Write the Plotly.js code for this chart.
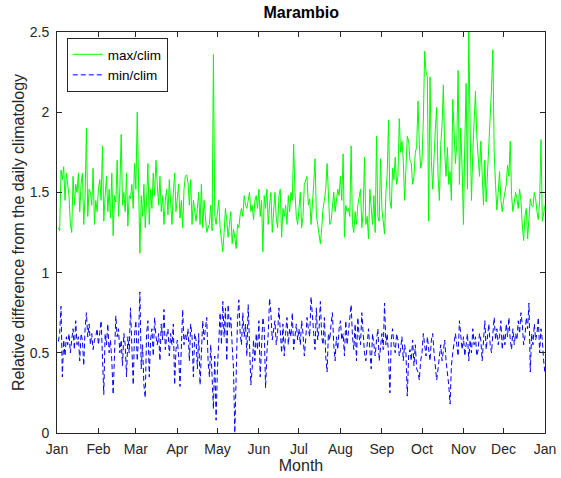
<!DOCTYPE html>
<html>
<head>
<meta charset="utf-8">
<script src="https://cdn.plot.ly/plotly-3.0.1.min.js"></script>
<style>html,body{margin:0;padding:0;background:#fff;}#chart{width:561px;height:478px;}</style>
</head>
<body>
<div id="chart"></div>
<script>
// Month tick positions (day of year) and labels
var monthStartDays = [0,31,59,90,120,151,181,212,243,273,304,334,365];
var monthLabels = ["Jan","Feb","Mar","Apr","May","Jun","Jul","Aug","Sep","Oct","Nov","Dec","Jan"];

// max/clim by month (daily values)
var maxJan = [1.28,1.26,1.64,1.58,1.66,1.45,1.62,1.55,1.48,1.30,1.25,1.60,1.42,1.55,1.50,1.62,1.38,1.55,1.62,1.30,1.48,1.90,1.35,1.52,1.50,1.42,1.65,1.30,1.45,1.38,1.52];
var maxFeb = [1.58,1.45,1.79,1.32,1.48,1.60,1.38,1.52,1.34,1.62,1.23,1.48,1.44,1.70,1.35,1.52,1.86,1.42,1.50,1.38,1.62,1.29,1.48,1.46,1.55,1.40,1.68,1.52];
var maxMar = [2.00,1.40,1.12,1.48,1.35,1.55,1.28,1.45,1.68,1.30,1.52,1.40,1.62,1.48,1.70,1.55,1.42,1.60,1.38,1.48,1.30,1.45,1.52,1.36,1.58,1.44,1.30,1.50,1.62,1.38,1.48];
var maxApr = [1.55,1.34,1.45,1.28,1.52,1.60,1.61,1.56,1.42,1.58,1.30,1.45,1.38,1.32,1.40,1.50,1.30,1.55,1.28,1.45,1.35,1.25,1.28,1.30,1.42,1.26,2.36,1.36,1.30,1.38];
var maxMay = [1.45,1.28,1.20,1.13,1.25,1.40,1.32,1.22,1.30,1.38,1.18,1.27,1.22,1.15,1.30,1.28,1.36,1.40,1.35,1.48,1.42,1.40,1.45,1.50,1.38,1.42,1.33,1.45,1.48,1.40,1.52];
var maxJun = [1.35,1.45,1.13,1.48,1.40,1.52,1.30,1.42,1.50,1.25,1.38,1.50,1.34,1.28,1.48,1.52,1.22,1.40,1.35,1.42,1.30,1.48,1.38,1.50,1.45,1.80,1.50,1.35,1.30,1.38];
var maxJul = [1.50,1.28,1.35,1.55,1.58,1.60,1.42,1.46,1.30,1.40,1.55,1.71,1.35,1.30,1.25,1.18,1.28,1.40,1.45,1.52,1.68,1.48,1.30,1.32,1.42,1.50,1.38,1.45,1.52,1.48,1.60];
var maxAug = [1.45,1.74,1.22,1.42,1.38,1.40,1.35,1.79,1.30,1.25,1.38,1.30,1.42,1.48,1.52,1.28,1.38,1.72,1.30,1.35,1.21,1.52,1.38,1.30,1.48,1.25,1.85,1.35,1.32,1.71,1.40];
var maxSep = [1.30,1.24,1.50,1.62,1.95,1.45,1.40,1.65,1.58,1.72,1.55,1.60,1.96,1.75,1.82,1.70,1.45,1.62,1.85,1.82,1.70,1.68,1.55,1.60,1.75,1.78,2.07,1.80,1.65,1.70];
var maxOct = [1.95,2.38,2.25,2.22,1.32,2.22,1.70,1.52,1.75,1.90,2.03,1.60,1.45,1.80,1.92,2.17,1.75,1.60,1.78,1.55,1.63,1.45,2.08,1.85,1.68,1.80,2.26,1.55,1.90,1.65,1.30];
var maxNov = [1.80,2.18,1.52,2.50,1.90,1.45,1.75,1.92,2.13,1.85,1.70,1.60,1.82,1.55,1.42,1.70,1.44,1.62,1.77,1.95,2.15,2.39,1.75,1.55,1.39,1.50,1.63,1.45,1.38,1.45];
var maxDec = [1.50,1.55,1.67,1.60,1.82,1.48,1.38,1.45,1.50,1.46,1.40,1.52,1.45,1.30,1.20,1.35,1.40,1.21,1.38,1.46,1.42,1.41,1.50,1.46,1.38,1.33,1.45,1.83,1.32,1.38,1.42];

// min/clim by month (daily values)
var minJan = [0.57,0.62,0.79,0.35,0.58,0.48,0.60,0.55,0.62,0.50,0.58,0.65,0.52,0.70,0.55,0.60,0.45,0.62,0.58,0.42,0.65,0.75,0.60,0.68,0.55,0.62,0.52,0.58,0.60,0.65,0.55];
var minFeb = [0.62,0.70,0.48,0.24,0.62,0.55,0.68,0.50,0.58,0.45,0.24,0.52,0.73,0.60,0.65,0.50,0.58,0.42,0.62,0.55,0.35,0.60,0.50,0.78,0.58,0.30,0.62,0.70];
var minMar = [0.45,0.60,0.88,0.40,0.55,0.30,0.22,0.62,0.70,0.35,0.58,0.65,0.48,0.72,0.60,0.55,0.62,0.45,0.68,0.58,0.77,0.52,0.60,0.65,0.48,0.62,0.55,0.68,0.30,0.52,0.58];
var minApr = [0.48,0.29,0.60,0.77,0.55,0.62,0.58,0.65,0.45,0.68,0.60,0.35,0.62,0.58,0.40,0.62,0.30,0.55,0.70,0.58,0.65,0.72,0.45,0.35,0.55,0.28,0.15,0.48,0.08,0.40];
var minMay = [0.62,0.75,0.55,0.82,0.60,0.78,0.45,0.80,0.65,0.72,0.55,0.40,0.00,0.35,0.70,0.83,0.62,0.55,0.75,0.60,0.68,0.48,0.80,0.55,0.30,0.40,0.58,0.45,0.62,0.52,0.70];
var minJun = [0.35,0.58,0.72,0.65,0.28,0.50,0.62,0.84,0.75,0.58,0.65,0.70,0.55,0.62,0.78,0.60,0.50,0.68,0.48,0.62,0.72,0.55,0.65,0.60,0.75,0.52,0.62,0.68,0.58,0.65];
var minJul = [0.55,0.70,0.62,0.48,0.58,0.72,0.65,0.60,0.85,0.70,0.62,0.52,0.78,0.58,0.65,0.82,0.60,0.55,0.72,0.48,0.38,0.62,0.58,0.68,0.75,0.55,0.45,0.60,0.52,0.65,0.70];
var minAug = [0.58,0.62,0.48,0.70,0.55,0.65,0.72,0.80,0.60,0.52,0.68,0.45,0.72,0.60,0.55,0.75,0.62,0.50,0.45,0.58,0.65,0.52,0.40,0.62,0.55,0.48,0.58,0.65,0.45,0.55,0.62];
var minSep = [0.52,0.81,0.55,0.62,0.48,0.25,0.58,0.65,0.55,0.50,0.62,0.58,0.48,0.52,0.60,0.45,0.55,0.50,0.23,0.48,0.52,0.45,0.58,0.42,0.55,0.40,0.38,0.33,0.45,0.50];
var minOct = [0.62,0.55,0.48,0.60,0.52,0.45,0.58,0.62,0.50,0.42,0.33,0.40,0.48,0.55,0.45,0.52,0.58,0.45,0.38,0.30,0.18,0.42,0.50,0.58,0.62,0.55,0.48,0.70,0.58,0.52,0.60];
var minNov = [0.48,0.55,0.62,0.45,0.58,0.50,0.65,0.55,0.60,0.48,0.52,0.62,0.58,0.45,0.55,0.70,0.52,0.60,0.68,0.55,0.50,0.62,0.72,0.58,0.65,0.55,0.60,0.70,0.52,0.62];
var minDec = [0.55,0.68,0.60,0.72,0.58,0.52,0.65,0.55,0.62,0.58,0.70,0.62,0.75,0.68,0.55,0.60,0.72,0.65,0.81,0.38,0.62,0.55,0.68,0.58,0.62,0.72,0.50,0.65,0.58,0.45,0.37];

var maxClim = [].concat(maxJan,maxFeb,maxMar,maxApr,maxMay,maxJun,maxJul,maxAug,maxSep,maxOct,maxNov,maxDec);
var minClim = [].concat(minJan,minFeb,minMar,minApr,minMay,minJun,minJul,minAug,minSep,minOct,minNov,minDec);
var dayMax = maxClim.map(function(v,i){return i+1;});
var dayMin = minClim.map(function(v,i){return i+1;});

var txt = '#262626';
var traces = [
  {x: dayMax, y: maxClim, type: 'scatter', mode: 'lines', name: 'max/clim',
   line: {color: '#00ff00', width: 1}},
  {x: dayMin, y: minClim, type: 'scatter', mode: 'lines', name: 'min/clim',
   line: {color: '#0000ff', width: 1, dash: '5px,3px'}}
];

var layout = {
  width: 561, height: 478,
  margin: {l: 57, r: 16, t: 32, b: 45, pad: 0},
  paper_bgcolor: '#ffffff', plot_bgcolor: '#ffffff',
  font: {family: 'Liberation Sans, Arial, sans-serif', size: 14, color: txt},
  title: {text: '<b>Marambio</b>', x: 0.537, xanchor: 'center', y: 0.985, yanchor: 'top',
          font: {size: 16, color: '#000'}},
  showlegend: true,
  legend: {x: 0.02, y: 0.985, xanchor: 'left', yanchor: 'top', bgcolor: '#fff',
           bordercolor: '#262626', borderwidth: 1, font: {size: 13.5, color: '#000'},
           tracegroupgap: 0, itemwidth: 30},
  xaxis: {range: [0, 365], tickvals: monthStartDays, ticktext: monthLabels,
          ticks: 'inside', ticklen: 5, tickcolor: txt, showline: true, linecolor: txt,
          linewidth: 1, mirror: 'ticks', showgrid: false, zeroline: false,
          ticklabelstandoff: 3,
          tickfont: {size: 14, color: txt},
          title: {text: 'Month', standoff: 4, font: {size: 16, color: txt}}},
  yaxis: {range: [0, 2.5], tickvals: [0, 0.5, 1, 1.5, 2, 2.5], ticktext: ['0','0.5','1','1.5','2','2.5'],
          ticks: 'inside', ticklen: 5, tickcolor: txt, showline: true, linecolor: txt,
          linewidth: 1, mirror: 'ticks', showgrid: false, zeroline: false,
          ticklabelstandoff: 4,
          tickfont: {size: 14, color: txt},
          title: {text: 'Relative difference from the daily climatology', standoff: 1,
                  font: {size: 16, color: txt}}}
};

Plotly.newPlot('chart', traces, layout, {displayModeBar: false, staticPlot: true});
</script>
</body>
</html>
